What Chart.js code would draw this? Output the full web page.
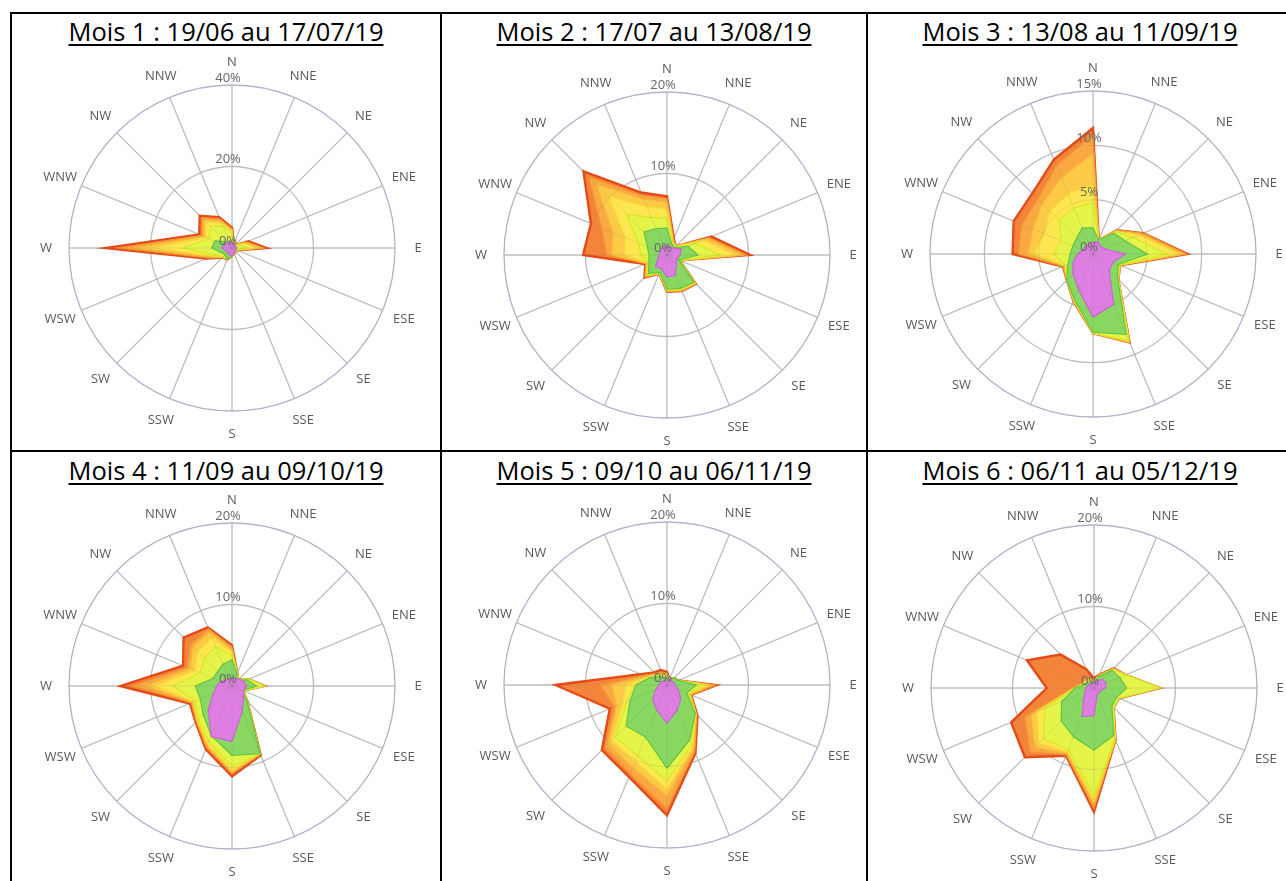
<!DOCTYPE html>
<html lang="fr">
<head>
<meta charset="utf-8">
<title>Roses des vents mensuelles</title>
<script src="https://cdn.jsdelivr.net/npm/chart.js@4.4.1/dist/chart.umd.min.js"></script>
<style>
  html, body { margin: 0; padding: 0; background: #fff; }
  body { position: relative; width: 1286px; height: 881px; overflow: hidden; font-family: "Open Sans", sans-serif; }
  .rule { position: absolute; background: #000; }
  .title { position: absolute; text-align: center; font-size: 25.5px; line-height: 30px; color: #000;
           white-space: nowrap; text-decoration: underline; text-decoration-thickness: 1.5px; text-underline-offset: 3px; }
  canvas { position: absolute; }
</style>
</head>
<body>
<!-- table rules -->
<div class="rule" style="left:10px;top:12px;width:1276px;height:2px"></div>
<div class="rule" style="left:10px;top:450px;width:1276px;height:2px"></div>
<div class="rule" style="left:10px;top:12px;width:2px;height:869px"></div>
<div class="rule" style="left:440px;top:12px;width:2px;height:869px"></div>
<div class="rule" style="left:866px;top:12px;width:2px;height:869px"></div>

<div class="title" style="left:12px;width:428px;top:16px">Mois 1 : 19/06 au 17/07/19</div>
<div class="title" style="left:442px;width:424px;top:16px">Mois 2 : 17/07 au 13/08/19</div>
<div class="title" style="left:868px;width:424px;top:16px">Mois 3 : 13/08 au 11/09/19</div>
<div class="title" style="left:12px;width:428px;top:455px">Mois 4 : 11/09 au 09/10/19</div>
<div class="title" style="left:442px;width:424px;top:455px">Mois 5 : 09/10 au 06/11/19</div>
<div class="title" style="left:868px;width:424px;top:455px">Mois 6 : 06/11 au 05/12/19</div>

<canvas id="rose1" width="420" height="420" style="left:22px;top:38px"></canvas>
<canvas id="rose2" width="420" height="420" style="left:457px;top:45px"></canvas>
<canvas id="rose3" width="420" height="420" style="left:883px;top:44px"></canvas>
<canvas id="rose4" width="420" height="420" style="left:22px;top:476px"></canvas>
<canvas id="rose5" width="420" height="420" style="left:457px;top:475px"></canvas>
<canvas id="rose6" width="420" height="420" style="left:884px;top:478px"></canvas>

<script>
// Wind directions, clockwise from north
const directions = ['N', 'NNE', 'NE', 'ENE', 'E', 'ESE', 'SE', 'SSE', 'S', 'SSW', 'SW', 'WSW', 'W', 'WNW', 'NW', 'NNW'];

// Cumulative frequency (%) per direction, band 1 = innermost class, band 7 = all classes
const mois1_b1 = [1.2, 0.8, 0.8, 1.0, 1.1, 1.0, 1.0, 1.3, 1.8, 1.8, 1.5, 1.7, 2.5, 2.0, 1.6, 1.5];
const mois1_b2 = [1.5, 0.9, 0.8, 1.0, 1.2, 1.0, 1.0, 1.4, 2.0, 3.0, 2.4, 2.8, 5.0, 4.5, 2.2, 1.6];
const mois1_b3 = [3.6, 1.0, 0.9, 2.2, 3.5, 1.2, 1.1, 1.4, 2.0, 3.0, 3.0, 4.6, 12.0, 6.0, 7.5, 5.8];
const mois1_b4 = [4.1, 1.1, 1.0, 3.2, 6.3, 1.3, 1.1, 1.5, 2.0, 3.0, 3.1, 5.4, 19.0, 7.0, 9.0, 6.6];
const mois1_b5 = [4.4, 1.1, 1.0, 3.6, 7.2, 1.4, 1.2, 1.5, 2.0, 3.0, 3.2, 5.9, 24.0, 7.5, 9.8, 7.2];
const mois1_b6 = [4.7, 1.2, 1.0, 3.9, 7.8, 1.5, 1.2, 1.5, 2.0, 3.0, 3.3, 6.3, 28.0, 8.1, 10.5, 7.7];
const mois1_b7 = [5.0, 1.2, 1.0, 4.3, 8.5, 1.5, 1.2, 1.5, 2.0, 3.0, 3.3, 6.8, 31.0, 8.7, 11.2, 8.2];

const mois2_b1 = [1.2, 1.0, 1.2, 1.9, 1.6, 1.3, 1.6, 2.7, 2.7, 1.8, 2.0, 1.2, 1.0, 0.9, 1.0, 1.1];
const mois2_b2 = [3.3, 1.5, 1.3, 2.8, 3.8, 1.6, 4.7, 4.4, 4.2, 2.3, 3.2, 2.4, 2.2, 2.6, 4.0, 3.5];
const mois2_b3 = [4.5, 1.8, 1.4, 3.8, 6.5, 1.7, 4.8, 4.5, 4.3, 2.4, 3.5, 2.5, 3.2, 3.8, 7.0, 5.0];
const mois2_b4 = [5.7, 1.9, 1.5, 4.8, 8.4, 1.7, 4.9, 4.6, 4.4, 2.4, 3.6, 2.6, 5.2, 5.6, 10.2, 6.4];
const mois2_b5 = [6.5, 2.0, 1.5, 5.3, 9.3, 1.7, 4.9, 4.7, 4.4, 2.5, 3.7, 2.7, 6.8, 7.2, 12.3, 7.4];
const mois2_b6 = [6.9, 2.1, 1.5, 5.6, 9.8, 1.7, 5.0, 4.8, 4.5, 2.5, 3.8, 2.8, 7.4, 8.7, 13.6, 7.9];
const mois2_b7 = [7.2, 2.2, 1.5, 5.9, 10.2, 1.7, 5.0, 4.8, 4.5, 2.5, 3.9, 2.9, 10.3, 10.1, 14.5, 8.3];

const mois3_b1 = [1.1, 1.2, 1.0, 1.2, 3.0, 2.0, 2.1, 5.0, 5.8, 3.5, 2.6, 2.0, 1.4, 1.0, 1.0, 1.0];
const mois3_b2 = [2.4, 1.4, 2.7, 3.2, 5.0, 2.5, 3.2, 8.0, 7.2, 4.5, 3.4, 2.5, 2.1, 2.0, 2.1, 2.6];
const mois3_b3 = [4.7, 1.4, 2.9, 4.0, 6.8, 2.6, 3.3, 8.6, 7.3, 4.6, 3.4, 2.7, 3.6, 3.2, 4.4, 4.6];
const mois3_b4 = [6.4, 1.4, 3.0, 4.6, 7.9, 2.7, 3.3, 8.7, 7.3, 4.6, 3.4, 2.8, 5.4, 4.9, 5.6, 6.0];
const mois3_b5 = [9.3, 1.4, 3.0, 4.8, 8.4, 2.7, 3.3, 8.8, 7.3, 4.7, 3.4, 2.9, 6.0, 6.0, 6.6, 7.6];
const mois3_b6 = [11.0, 1.4, 3.1, 5.0, 8.6, 2.7, 3.3, 8.8, 7.3, 4.7, 3.4, 3.0, 6.9, 7.1, 7.2, 8.8];
const mois3_b7 = [11.6, 1.4, 3.1, 5.0, 8.7, 2.7, 3.3, 8.8, 7.3, 4.7, 3.4, 3.0, 7.4, 7.9, 7.9, 9.4];

const mois4_b1 = [1.0, 1.0, 1.2, 1.5, 1.8, 1.5, 2.0, 3.3, 6.8, 6.7, 4.1, 2.5, 1.9, 1.5, 1.0, 1.0];
const mois4_b2 = [3.2, 1.6, 1.0, 2.0, 3.0, 1.4, 2.6, 9.0, 8.5, 6.6, 5.0, 4.2, 4.5, 2.5, 2.5, 2.9];
const mois4_b3 = [3.7, 1.7, 1.1, 2.2, 4.0, 1.5, 2.7, 9.0, 9.9, 7.4, 5.8, 4.9, 7.2, 4.2, 4.8, 5.2];
const mois4_b4 = [4.2, 1.7, 1.1, 2.2, 4.0, 1.5, 2.7, 9.0, 10.4, 7.8, 6.0, 5.1, 9.4, 5.0, 6.0, 6.4];
const mois4_b5 = [4.5, 1.7, 1.1, 2.2, 4.0, 1.5, 2.7, 9.0, 10.6, 8.0, 6.1, 5.3, 10.6, 5.6, 6.8, 7.2];
const mois4_b6 = [4.8, 1.7, 1.1, 2.2, 4.0, 1.5, 2.7, 9.1, 10.8, 8.2, 6.2, 5.4, 12.2, 6.0, 7.2, 7.6];
const mois4_b7 = [5.0, 1.7, 1.1, 2.2, 4.0, 1.5, 2.7, 9.2, 11.1, 8.4, 6.3, 5.6, 13.7, 6.5, 8.4, 7.8];

const mois5_b1 = [0.6, 0.7, 0.8, 0.8, 1.0, 1.5, 2.4, 3.3, 4.7, 3.3, 2.5, 1.5, 1.0, 0.8, 0.7, 0.6];
const mois5_b2 = [0.8, 0.8, 1.2, 1.5, 3.6, 2.6, 4.9, 7.3, 10.2, 6.9, 7.1, 4.9, 3.8, 2.3, 1.5, 1.0];
const mois5_b3 = [1.0, 0.8, 1.2, 1.5, 4.3, 2.9, 5.0, 7.9, 11.8, 9.4, 9.0, 5.3, 4.0, 2.4, 1.6, 1.1];
const mois5_b4 = [1.2, 0.8, 1.2, 1.5, 5.0, 3.0, 5.0, 8.3, 12.8, 10.2, 9.6, 5.9, 5.0, 2.6, 1.7, 1.3];
const mois5_b5 = [1.3, 0.8, 1.2, 1.5, 5.6, 3.1, 5.1, 8.6, 13.6, 11.0, 10.2, 6.7, 6.8, 2.8, 1.8, 1.5];
const mois5_b6 = [1.4, 0.8, 1.2, 1.5, 6.0, 3.2, 5.2, 8.9, 15.2, 11.8, 10.8, 7.0, 8.2, 3.1, 2.0, 1.7];
const mois5_b7 = [1.6, 0.8, 1.2, 1.5, 6.1, 3.2, 5.3, 9.1, 16.0, 12.2, 11.3, 7.6, 13.7, 3.5, 2.2, 2.0];

const mois6_b1 = [0.6, 1.0, 1.5, 1.6, 1.4, 0.9, 0.8, 1.0, 3.4, 3.8, 1.8, 1.2, 1.0, 0.8, 0.7, 0.6];
const mois6_b2 = [0.6, 1.5, 3.1, 3.4, 4.0, 3.0, 3.1, 6.3, 7.6, 6.5, 5.7, 4.3, 2.3, 1.2, 1.0, 0.8];
const mois6_b3 = [0.8, 1.6, 3.2, 4.2, 8.1, 3.3, 3.4, 6.7, 13.2, 8.2, 8.8, 6.5, 2.3, 1.3, 1.2, 0.9];
const mois6_b4 = [0.9, 1.6, 3.3, 4.2, 8.1, 3.3, 3.4, 6.8, 13.8, 8.5, 9.6, 7.6, 2.4, 1.4, 1.3, 1.0];
const mois6_b5 = [1.0, 1.7, 3.3, 4.2, 8.1, 3.3, 3.4, 6.9, 14.3, 8.7, 10.3, 8.4, 2.5, 1.5, 1.4, 1.1];
const mois6_b6 = [1.0, 1.8, 3.4, 4.2, 8.1, 3.3, 3.4, 6.9, 14.8, 8.9, 11.1, 9.2, 2.7, 1.6, 1.5, 1.2];
const mois6_b7 = [1.2, 1.8, 3.4, 4.2, 8.1, 3.3, 3.4, 6.9, 15.2, 9.0, 12.0, 11.0, 5.8, 8.9, 5.8, 2.5];

// Radial axis extents per month
const axisMax  = [40, 20, 15, 20, 20, 20];
const axisStep = [20, 10, 5, 10, 10, 10];

// Band colours, innermost first
const bandFill = ['#df7fe3', '#88d862', '#e4f449', '#fde64f', '#fdca48', '#f9a842', '#f5843b'];
const bandLine = ['#c866d2', '#66c443', '#d3ea26', '#f5d737', '#f8b734', '#f39333', '#e54a18'];
const bandWidth = [1.2, 1.2, 1.2, 1.2, 1.2, 1.2, 2.4];

const months = [
  [mois1_b1, mois1_b2, mois1_b3, mois1_b4, mois1_b5, mois1_b6, mois1_b7],
  [mois2_b1, mois2_b2, mois2_b3, mois2_b4, mois2_b5, mois2_b6, mois2_b7],
  [mois3_b1, mois3_b2, mois3_b3, mois3_b4, mois3_b5, mois3_b6, mois3_b7],
  [mois4_b1, mois4_b2, mois4_b3, mois4_b4, mois4_b5, mois4_b6, mois4_b7],
  [mois5_b1, mois5_b2, mois5_b3, mois5_b4, mois5_b5, mois5_b6, mois5_b7],
  [mois6_b1, mois6_b2, mois6_b3, mois6_b4, mois6_b5, mois6_b6, mois6_b7]
];

// Faint grid over the filled bands, percentage ticks on the north spoke, compass labels
const roseOverlay = {
  id: 'roseOverlay',
  afterDatasetsDraw(chart) {
    const s = chart.scales.r;
    const ctx = chart.ctx;
    ctx.save();
    ctx.strokeStyle = 'rgba(110,110,110,0.16)';
    ctx.lineWidth = 1;
    s.ticks.forEach(t => {
      if (t.value <= 0) return;
      ctx.beginPath();
      ctx.arc(s.xCenter, s.yCenter, s.getDistanceFromCenterForValue(t.value), 0, Math.PI * 2);
      ctx.stroke();
    });
    directions.forEach((d, i) => {
      const p = s.getPointPosition(i, s.drawingArea);
      ctx.beginPath();
      ctx.moveTo(s.xCenter, s.yCenter);
      ctx.lineTo(p.x, p.y);
      ctx.stroke();
    });

    ctx.textAlign = 'center';
    ctx.textBaseline = 'middle';
    ctx.font = '13px "Open Sans"';
    ctx.fillStyle = '#666666';
    s.ticks.forEach(t => {
      const r = s.getDistanceFromCenterForValue(t.value);
      ctx.fillText(t.value + '%', s.xCenter - 4, s.yCenter - r - 7);
    });
    ctx.fillStyle = '#595959';
    directions.forEach((d, i) => {
      const p = s.getPointPosition(i, s.drawingArea + 23);
      ctx.fillText(d, p.x, p.y);
    });
    ctx.restore();
  }
};

months.forEach((bands, m) => {
  new Chart(document.getElementById('rose' + (m + 1)), {
    type: 'radar',
    data: {
      labels: directions,
      datasets: bands.map((values, b) => ({
        data: values,
        fill: 'origin',
        backgroundColor: bandFill[b],
        borderColor: bandLine[b],
        borderWidth: bandWidth[b],
        pointRadius: 0,
        tension: 0
      }))
    },
    options: {
      responsive: false,
      animation: false,
      layout: { padding: 47 },
      plugins: { legend: { display: false }, tooltip: { enabled: false } },
      scales: {
        r: {
          min: 0,
          max: axisMax[m],
          ticks: { stepSize: axisStep[m], display: false },
          pointLabels: { display: false },
          grid: {
            circular: true,
            lineWidth: 1.3,
            color: c => (c.tick && c.tick.value === axisMax[m]) ? '#b7bfd9' : '#c9c9cf'
          },
          angleLines: { color: '#c9c9c9', lineWidth: 1.3 }
        }
      }
    },
    plugins: [roseOverlay]
  });
});
</script>
</body>
</html>
